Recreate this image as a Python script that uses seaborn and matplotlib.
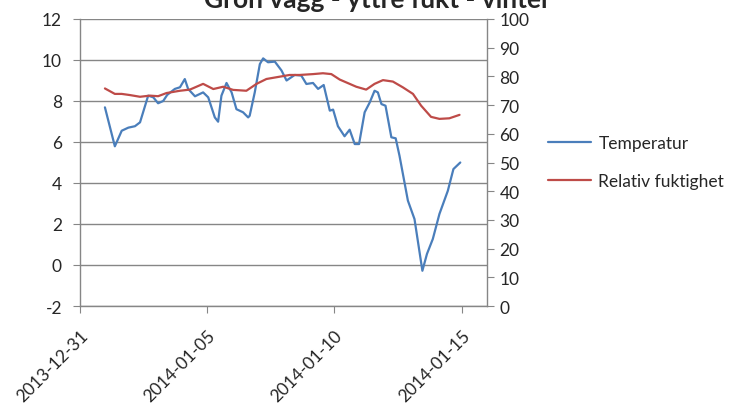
import pandas as pd
import seaborn as sns
import matplotlib.pyplot as plt
import matplotlib.dates as mdates
from matplotlib.ticker import MultipleLocator

# Dagar efter 2013-12-31 och temperatur (°C)
temp_dag = [0.98, 1.37, 1.64, 1.90, 2.16, 2.36, 2.68, 2.88, 3.07, 3.27, 3.43, 3.73,
            3.93, 4.12, 4.25, 4.52, 4.84, 5.04, 5.30, 5.43, 5.56, 5.76, 5.96, 6.15,
            6.41, 6.61, 6.67, 6.87, 7.07, 7.20, 7.39, 7.66, 7.92, 8.12, 8.44, 8.70,
            8.90, 9.16, 9.36, 9.58, 9.82, 9.95, 10.14, 10.40, 10.60, 10.80, 10.97,
            11.19, 11.39, 11.58, 11.71, 11.85, 12.01, 12.24, 12.41, 12.56, 12.89,
            13.15, 13.46, 13.64, 13.87, 14.13, 14.46, 14.68, 14.95]
temperatur = [7.69, 5.79, 6.55, 6.70, 6.77, 6.96, 8.26, 8.18, 7.89, 8.00, 8.30, 8.59,
              8.67, 9.07, 8.59, 8.23, 8.42, 8.18, 7.20, 6.99, 8.26, 8.88, 8.42, 7.60,
              7.45, 7.20, 7.28, 8.42, 9.80, 10.08, 9.89, 9.92, 9.49, 9.00, 9.27, 9.24,
              8.83, 8.88, 8.59, 8.78, 7.53, 7.58, 6.77, 6.28, 6.60, 5.90, 5.90,
              7.45, 7.93, 8.50, 8.42, 7.85, 7.77, 6.23, 6.18, 5.33, 3.14,
              2.24, -0.28, 0.54, 1.27, 2.49, 3.62, 4.68, 5.00]

# Dagar efter 2013-12-31 och relativ fuktighet (%)
rf_dag = [0.98, 1.37, 1.64, 1.96, 2.36, 2.75, 3.07, 3.40, 3.93, 4.32, 4.84, 5.24,
          5.63, 6.02, 6.54, 6.94, 7.33, 7.85, 8.24, 8.63, 9.16, 9.55, 9.88, 10.21,
          10.60, 10.86, 11.25, 11.58, 11.91, 12.30, 12.69, 13.09, 13.41, 13.80,
          14.13, 14.52, 14.92]
rel_fukt = [75.8, 73.9, 73.9, 73.5, 72.9, 73.3, 73.1, 74.2, 75.0, 75.4, 77.4, 75.6,
            76.4, 75.3, 75.0, 77.4, 79.1, 79.9, 80.5, 80.5, 80.8, 81.1, 80.8, 78.9,
            77.4, 76.4, 75.4, 77.4, 78.7, 78.2, 76.2, 73.9, 69.8, 65.9,
            65.2, 65.4, 66.6]

start = pd.Timestamp('2013-12-31')
df_t = pd.DataFrame({'tid': start + pd.to_timedelta(temp_dag, unit='D'),
                     'Temperatur': temperatur})
df_rf = pd.DataFrame({'tid': start + pd.to_timedelta(rf_dag, unit='D'),
                      'Relativ fuktighet': rel_fukt})

sns.set_style('white')
plt.rcParams['font.family'] = ['Lato', 'DejaVu Sans']
plt.rcParams['axes.unicode_minus'] = False

blue = '#4A7EBB'
red = '#BE4B48'
grid = '#868686'

fig = plt.figure(figsize=(7.41, 4.06), dpi=100)
ax = fig.add_axes([80 / 741, 1 - 307 / 406, 407 / 741, 287 / 406])
ax2 = ax.twinx()

sns.lineplot(data=df_t, x='tid', y='Temperatur', ax=ax, color=blue, lw=1.6,
             label='Temperatur', legend=False)
sns.lineplot(data=df_rf, x='tid', y='Relativ fuktighet', ax=ax2, color=red, lw=1.6,
             label='Relativ fuktighet', legend=False)

ax.set_ylim(-2, 12)
ax.yaxis.set_major_locator(MultipleLocator(2))
ax2.set_ylim(0, 100)
ax2.yaxis.set_major_locator(MultipleLocator(10))
ax.set_xlim(pd.Timestamp('2013-12-31'), pd.Timestamp('2014-01-16'))
ax.set_xticks(pd.to_datetime(['2013-12-31', '2014-01-05', '2014-01-10', '2014-01-15']))
ax.xaxis.set_major_formatter(mdates.DateFormatter('%Y-%m-%d'))

ax.grid(axis='y', color=grid, lw=1)
ax.set_axisbelow(True)
ax.set_xlabel('')
ax.set_ylabel('')
ax2.set_ylabel('')

for a in (ax, ax2):
    a.spines['top'].set_visible(False)
    for s in ('left', 'right', 'bottom'):
        a.spines[s].set_color(grid)
        a.spines[s].set_linewidth(1)
ax.spines['right'].set_visible(False)
ax2.spines['left'].set_visible(False)
ax2.spines['bottom'].set_visible(False)

ax.tick_params(axis='y', length=5, color=grid, labelsize=12.5, pad=8, left=True)
ax2.tick_params(axis='y', length=5, color=grid, labelsize=12.5, pad=4, right=True)
ax.tick_params(axis='x', length=5, color=grid, labelsize=12.5, pad=10, bottom=True)
for lab in ax.get_xticklabels():
    lab.set_rotation(45)
    lab.set_ha('right')
    lab.set_rotation_mode('anchor')

h1, l1 = ax.get_legend_handles_labels()
h2, l2 = ax2.get_legend_handles_labels()
fig.legend(h1 + h2, l1 + l2, loc='center left', bbox_to_anchor=(548 / 741, 1 - 163 / 406),
           frameon=False, fontsize=12.5, handlelength=2.5, handletextpad=0.4,
           labelspacing=1.3, borderpad=0, borderaxespad=0)

fig.text(0.51, 1 - 8 / 406, 'Grön vägg - yttre fukt - vinter', ha='center',
         va='baseline', fontsize=19, fontweight='bold')

fig.savefig('out.png', dpi=100)
